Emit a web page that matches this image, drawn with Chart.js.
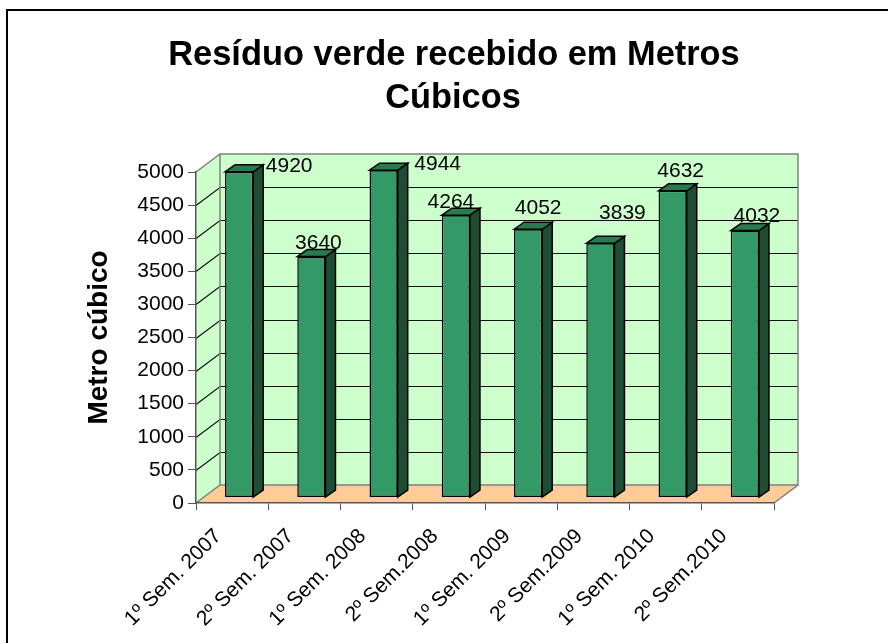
<!DOCTYPE html>
<html>
<head>
<meta charset="utf-8">
<title>Resíduo verde recebido</title>
<script src="https://cdn.jsdelivr.net/npm/chart.js@4/dist/chart.umd.min.js"></script>
<style>
  body { margin: 0; background: #fff; }
  #wrap { width: 888px; height: 643px; }
</style>
</head>
<body>
<div id="wrap"><canvas id="mycanvas" width="888" height="643"></canvas></div>
<script>
// semesters and volume received (m3)
var semestres = ['1º Sem. 2007', '2º Sem. 2007', '1º Sem. 2008', '2º Sem.2008',
                 '1º Sem. 2009', '2º Sem.2009', '1º Sem. 2010', '2º Sem.2010'];
var volumes = [4920, 3640, 4944, 4264, 4052, 3839, 4632, 4032];
var yMin = 0, yMax = 5000, yStep = 500;

// where each value label sits relative to the top of its bar
var labelDx = [50, 7, 54, -5, 10, 22, 8, 12];
var labelDy = [-7, -15, -8, -15, -23, -32, -21, -16];

var fonte = '"Liberation Sans", Arial, sans-serif';
Chart.defaults.font.family = fonte;
Chart.defaults.color = '#000';

// fake 3d: wall depth and bar offsets
var wall = { dx: 24, dy: -18 };
var barShift = { dx: 7, dy: -5.5 };
var barDepth = { dx: 10, dy: -7 };

function line(ctx, pts, color, w) {
    ctx.beginPath();
    ctx.moveTo(pts[0][0], pts[0][1]);
    for (var i = 1; i < pts.length; i++) ctx.lineTo(pts[i][0], pts[i][1]);
    ctx.strokeStyle = color;
    ctx.lineWidth = w;
    ctx.stroke();
}
function poly(ctx, pts, fill, stroke, w) {
    ctx.beginPath();
    ctx.moveTo(pts[0][0], pts[0][1]);
    for (var i = 1; i < pts.length; i++) ctx.lineTo(pts[i][0], pts[i][1]);
    ctx.closePath();
    ctx.fillStyle = fill;
    ctx.fill();
    if (stroke) {
        ctx.strokeStyle = stroke;
        ctx.lineWidth = w;
        ctx.stroke();
    }
}

var caixa3d = {
    id: 'caixa3d',
    beforeDraw: function(chart) {
        var ctx = chart.ctx, ys = chart.scales.y, a = chart.chartArea;
        var L = a.left, R = a.right;
        var T = ys.getPixelForValue(yMax), B = ys.getPixelForValue(yMin);
        var dx = wall.dx, dy = wall.dy;
        ctx.save();
        ctx.fillStyle = '#fff';
        ctx.fillRect(0, 0, chart.width, chart.height);
        ctx.strokeStyle = '#000';
        ctx.lineWidth = 2;
        ctx.strokeRect(7, 10, chart.width + 20, chart.height + 20);

        // title
        ctx.fillStyle = '#000';
        ctx.font = 'bold 34.4px ' + fonte;
        ctx.textAlign = 'center';
        ctx.textBaseline = 'alphabetic';
        ctx.fillText('Resíduo verde recebido em Metros', 454, 65);
        ctx.fillText('Cúbicos', 453, 108);

        // walls and floor
        poly(ctx, [[L, B], [L + dx, B + dy], [L + dx, T + dy], [L, T]], '#ccffcc');
        poly(ctx, [[L + dx, T + dy], [R + dx, T + dy], [R + dx, B + dy], [L + dx, B + dy]], '#ccffcc');
        poly(ctx, [[L, B], [R, B], [R + dx, B + dy], [L + dx, B + dy]], '#ffcc99');

        // gridlines on side and back wall
        ys.ticks.forEach(function(t) {
            if (t.value === yMin || t.value === yMax) return;
            var py = Math.round(ys.getPixelForValue(t.value) + dy) + 0.5;
            line(ctx, [[L, py - dy], [L + dx, py], [R + dx, py]], '#111', 1.2);
        });

        // wall edges
        line(ctx, [[L, T], [L + dx, T + dy], [R + dx, T + dy], [R + dx, B + dy], [R, B]], '#808080', 1.5);
        line(ctx, [[L, B], [L + dx, B + dy], [R + dx, B + dy]], '#808080', 1.5);
        line(ctx, [[L + dx, T + dy], [L + dx, B + dy]], '#808080', 1.5);
        ctx.restore();
    },
    beforeDatasetsDraw: function(chart) {
        chart.ctx.save();
        chart.ctx.translate(barShift.dx, barShift.dy);
    },
    afterDatasetsDraw: function(chart) {
        var ctx = chart.ctx;
        var meta = chart.getDatasetMeta(0);
        meta.data.forEach(function(bar, i) {
            var l = bar.x - bar.width / 2, r = bar.x + bar.width / 2;
            var top = bar.y, base = bar.base;
            var ddx = barDepth.dx, ddy = barDepth.dy;
            // right side
            poly(ctx, [[r, top], [r + ddx, top + ddy], [r + ddx, base + ddy], [r, base]], '#1e4d33', '#000', 1.5);
            // top
            poly(ctx, [[l, top], [l + ddx, top + ddy], [r + ddx, top + ddy], [r, top]], '#2a7a50', '#000', 1.5);

            // value label
            ctx.fillStyle = '#000';
            ctx.font = '21px ' + fonte;
            ctx.textAlign = 'center';
            ctx.textBaseline = 'alphabetic';
            ctx.fillText(String(volumes[i]), bar.x + labelDx[i], top + labelDy[i] + 7.5);
        });
        ctx.restore();
    }
};

var ctx = document.getElementById('mycanvas');
var barGraph = new Chart(ctx, {
    type: 'bar',
    data: {
        labels: semestres,
        datasets: [{
            label: 'Metro cúbico',
            data: volumes,
            backgroundColor: '#339966',
            borderColor: '#000',
            borderWidth: 1.5,
            borderSkipped: false,
            barPercentage: 0.39,
            categoryPercentage: 1,
            clip: false
        }]
    },
    options: {
        responsive: false,
        animation: false,
        devicePixelRatio: 1,
        layout: { padding: { top: 172, left: 78, right: 114, bottom: 0 } },
        plugins: {
            legend: { display: false },
            tooltip: { enabled: false },
            title: { display: false }
        },
        scales: {
            x: {
                grid: { offset: true, drawOnChartArea: false, tickLength: 7, color: '#555' },
                border: { color: '#555', width: 1.5 },
                ticks: {
                    font: { size: 21 },
                    minRotation: 45,
                    maxRotation: 45,
                    autoSkip: false,
                    labelOffset: -14,
                    padding: 14
                },
                afterFit: function(s) { s.height = 140; }
            },
            y: {
                min: yMin,
                max: yMax,
                grid: { drawOnChartArea: false, tickLength: 8, color: '#555' },
                border: { color: '#555', width: 1.5 },
                ticks: {
                    stepSize: yStep,
                    font: { size: 21 },
                    padding: 4,
                    callback: function(v) { return v; }
                },
                title: {
                    display: true,
                    text: 'Metro cúbico',
                    font: { size: 28, weight: 'bold' },
                    padding: { top: 4, bottom: 0 }
                },
                afterFit: function(s) { s.width = 118; }
            }
        }
    },
    plugins: [caixa3d]
});
</script>
</body>
</html>
